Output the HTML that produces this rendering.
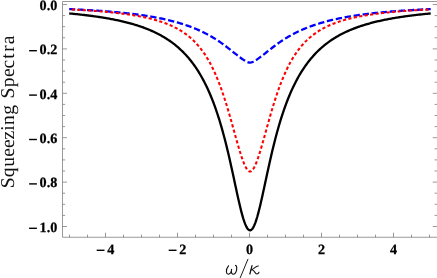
<!DOCTYPE html>
<html><head><meta charset="utf-8"><title>Squeezing Spectra</title>
<style>
html,body{margin:0;padding:0;background:#fff;}
body{width:437px;height:278px;position:relative;overflow:hidden;font-family:"Liberation Serif",serif;text-rendering:geometricPrecision;}
svg{position:absolute;left:0;top:0;}
</style></head><body>
<svg width="437" height="278" viewBox="0 0 437 278" style="will-change:transform">
<rect width="437" height="278" fill="#fff"/>
<g fill="none" stroke="#777" stroke-width="0.75">
<path d="M62.5 1.5 V237.25 H437.5 M62.5 1.5 H437.5"/>
<path d="M69.50 237.25 V234.60 M87.50 237.25 V234.60 M105.50 237.25 V232.75 M123.50 237.25 V234.60 M141.50 237.25 V234.60 M159.50 237.25 V234.60 M177.50 237.25 V232.75 M195.50 237.25 V234.60 M213.50 237.25 V234.60 M231.50 237.25 V234.60 M249.50 237.25 V232.75 M267.50 237.25 V234.60 M285.50 237.25 V234.60 M303.50 237.25 V234.60 M321.50 237.25 V232.75 M339.50 237.25 V234.60 M357.50 237.25 V234.60 M375.50 237.25 V234.60 M393.50 237.25 V232.75 M411.50 237.25 V234.60 M429.50 237.25 V234.60 M62.5 4.50 h4.5 M437.2 4.50 h-4.5 M62.5 15.60 h2.65 M437.2 15.60 h-2.65 M62.5 26.70 h2.65 M437.2 26.70 h-2.65 M62.5 37.80 h2.65 M437.2 37.80 h-2.65 M62.5 48.90 h4.5 M437.2 48.90 h-4.5 M62.5 60.00 h2.65 M437.2 60.00 h-2.65 M62.5 71.10 h2.65 M437.2 71.10 h-2.65 M62.5 82.20 h2.65 M437.2 82.20 h-2.65 M62.5 93.30 h4.5 M437.2 93.30 h-4.5 M62.5 104.40 h2.65 M437.2 104.40 h-2.65 M62.5 115.50 h2.65 M437.2 115.50 h-2.65 M62.5 126.60 h2.65 M437.2 126.60 h-2.65 M62.5 137.70 h4.5 M437.2 137.70 h-4.5 M62.5 148.80 h2.65 M437.2 148.80 h-2.65 M62.5 159.90 h2.65 M437.2 159.90 h-2.65 M62.5 171.00 h2.65 M437.2 171.00 h-2.65 M62.5 182.10 h4.5 M437.2 182.10 h-4.5 M62.5 193.20 h2.65 M437.2 193.20 h-2.65 M62.5 204.30 h2.65 M437.2 204.30 h-2.65 M62.5 215.40 h2.65 M437.2 215.40 h-2.65 M62.5 226.50 h4.5 M437.2 226.50 h-4.5"/>
</g>
<g fill="none" stroke-width="2.3" stroke-linejoin="round" transform="scale(1.0 1)">
<path stroke="#000" d="M69.20 13.44 L70.20 13.53 L71.20 13.63 L72.20 13.72 L73.20 13.82 L74.20 13.92 L75.20 14.02 L76.20 14.12 L77.20 14.23 L78.20 14.33 L79.20 14.44 L80.20 14.55 L81.20 14.66 L82.20 14.77 L83.20 14.89 L84.20 15.00 L85.20 15.12 L86.20 15.24 L87.20 15.36 L88.20 15.49 L89.20 15.61 L90.20 15.74 L91.20 15.87 L92.20 16.01 L93.20 16.14 L94.20 16.28 L95.20 16.42 L96.20 16.56 L97.20 16.71 L98.20 16.85 L99.20 17.00 L100.20 17.15 L101.20 17.31 L102.20 17.47 L103.20 17.63 L104.20 17.79 L105.20 17.96 L106.20 18.13 L107.20 18.30 L108.20 18.48 L109.20 18.66 L110.20 18.84 L111.20 19.03 L112.20 19.22 L113.20 19.41 L114.20 19.61 L115.20 19.81 L116.20 20.01 L117.20 20.22 L118.20 20.44 L119.20 20.65 L120.20 20.87 L121.20 21.10 L122.20 21.33 L123.20 21.57 L124.20 21.80 L125.20 22.05 L126.20 22.30 L127.20 22.55 L128.20 22.81 L129.20 23.08 L130.20 23.35 L131.20 23.63 L132.20 23.91 L133.20 24.20 L134.20 24.49 L135.20 24.79 L136.20 25.10 L137.20 25.42 L138.20 25.74 L139.20 26.07 L140.20 26.40 L141.20 26.74 L142.20 27.10 L143.20 27.45 L144.20 27.82 L145.20 28.20 L146.20 28.58 L147.20 28.97 L148.20 29.38 L149.20 29.79 L150.20 30.21 L151.20 30.64 L152.20 31.08 L153.20 31.53 L154.20 32.00 L155.20 32.47 L156.20 32.96 L157.20 33.46 L158.20 33.97 L159.20 34.49 L160.20 35.03 L161.20 35.58 L162.20 36.14 L163.20 36.72 L164.20 37.31 L165.20 37.92 L166.20 38.54 L167.20 39.18 L168.20 39.84 L169.20 40.52 L170.20 41.21 L171.20 41.92 L172.20 42.65 L173.20 43.40 L174.20 44.18 L175.20 44.97 L176.20 45.78 L177.20 46.62 L178.20 47.48 L179.20 48.37 L180.20 49.28 L181.20 50.22 L182.20 51.18 L183.20 52.17 L184.20 53.19 L185.20 54.25 L186.20 55.33 L187.20 56.44 L188.20 57.59 L189.20 58.78 L190.20 60.00 L191.20 61.25 L192.20 62.55 L193.20 63.88 L194.20 65.26 L195.20 66.68 L196.20 68.15 L197.20 69.66 L198.20 71.23 L199.20 72.84 L200.20 74.50 L201.20 76.22 L202.20 78.00 L203.20 79.84 L204.20 81.73 L205.20 83.70 L206.20 85.72 L207.20 87.82 L208.20 89.99 L209.20 92.23 L210.20 94.56 L211.20 96.96 L212.20 99.44 L213.20 102.02 L214.20 104.68 L215.20 107.44 L216.20 110.29 L217.20 113.25 L218.20 116.31 L219.20 119.47 L220.20 122.75 L221.20 126.13 L222.20 129.63 L223.20 133.25 L224.20 136.98 L225.20 140.82 L226.20 144.79 L227.20 148.87 L228.20 153.05 L229.20 157.34 L230.20 161.73 L231.20 166.21 L232.20 170.75 L233.20 175.36 L234.20 180.00 L235.20 184.66 L236.20 189.31 L237.20 193.91 L238.20 198.43 L239.20 202.83 L240.20 207.07 L241.20 211.10 L242.20 214.87 L243.20 218.34 L244.20 221.44 L245.20 224.15 L246.20 226.40 L247.20 228.18 L248.20 229.43 L249.20 230.15 L250.20 230.32 L251.20 229.93 L252.20 228.99 L253.20 227.53 L254.20 225.56 L255.20 223.12 L256.20 220.25 L257.20 216.99 L258.20 213.40 L259.20 209.52 L260.20 205.40 L261.20 201.09 L262.20 196.63 L263.20 192.08 L264.20 187.45 L265.20 182.80 L266.20 178.14 L267.20 173.51 L268.20 168.93 L269.20 164.41 L270.20 159.97 L271.20 155.62 L272.20 151.36 L273.20 147.22 L274.20 143.19 L275.20 139.27 L276.20 135.47 L277.20 131.79 L278.20 128.22 L279.20 124.76 L280.20 121.42 L281.20 118.19 L282.20 115.07 L283.20 112.05 L284.20 109.14 L285.20 106.32 L286.20 103.61 L287.20 100.98 L288.20 98.44 L289.20 95.99 L290.20 93.62 L291.20 91.33 L292.20 89.11 L293.20 86.97 L294.20 84.90 L295.20 82.90 L296.20 80.97 L297.20 79.09 L298.20 77.28 L299.20 75.53 L300.20 73.83 L301.20 72.19 L302.20 70.59 L303.20 69.05 L304.20 67.56 L305.20 66.11 L306.20 64.71 L307.20 63.34 L308.20 62.02 L309.20 60.74 L310.20 59.50 L311.20 58.30 L312.20 57.13 L313.20 55.99 L314.20 54.89 L315.20 53.82 L316.20 52.78 L317.20 51.77 L318.20 50.79 L319.20 49.84 L320.20 48.91 L321.20 48.01 L322.20 47.13 L323.20 46.28 L324.20 45.45 L325.20 44.65 L326.20 43.86 L327.20 43.10 L328.20 42.36 L329.20 41.63 L330.20 40.93 L331.20 40.24 L332.20 39.58 L333.20 38.93 L334.20 38.29 L335.20 37.67 L336.20 37.07 L337.20 36.48 L338.20 35.91 L339.20 35.35 L340.20 34.81 L341.20 34.28 L342.20 33.76 L343.20 33.26 L344.20 32.76 L345.20 32.28 L346.20 31.81 L347.20 31.35 L348.20 30.90 L349.20 30.47 L350.20 30.04 L351.20 29.62 L352.20 29.21 L353.20 28.82 L354.20 28.43 L355.20 28.05 L356.20 27.67 L357.20 27.31 L358.20 26.95 L359.20 26.61 L360.20 26.27 L361.20 25.93 L362.20 25.61 L363.20 25.29 L364.20 24.98 L365.20 24.67 L366.20 24.37 L367.20 24.08 L368.20 23.80 L369.20 23.52 L370.20 23.24 L371.20 22.97 L372.20 22.71 L373.20 22.45 L374.20 22.20 L375.20 21.95 L376.20 21.71 L377.20 21.47 L378.20 21.24 L379.20 21.01 L380.20 20.78 L381.20 20.57 L382.20 20.35 L383.20 20.14 L384.20 19.93 L385.20 19.73 L386.20 19.53 L387.20 19.33 L388.20 19.14 L389.20 18.95 L390.20 18.77 L391.20 18.59 L392.20 18.41 L393.20 18.23 L394.20 18.06 L395.20 17.89 L396.20 17.73 L397.20 17.56 L398.20 17.40 L399.20 17.25 L400.20 17.09 L401.20 16.94 L402.20 16.79 L403.20 16.65 L404.20 16.50 L405.20 16.36 L406.20 16.22 L407.20 16.09 L408.20 15.95 L409.20 15.82 L410.20 15.69 L411.20 15.56 L412.20 15.44 L413.20 15.31 L414.20 15.19 L415.20 15.07 L416.20 14.96 L417.20 14.84 L418.20 14.73 L419.20 14.62 L420.20 14.50 L421.20 14.40 L422.20 14.29 L423.20 14.19 L424.20 14.08 L425.20 13.98 L426.20 13.88 L427.20 13.78 L428.20 13.68 L429.20 13.59 L430.20 13.49 L430.70 13.45"/>
<path stroke="#0000ff" stroke-dasharray="6.35 2.73" stroke-dashoffset="0.27" d="M69.20 9.11 L70.20 9.15 L71.20 9.20 L72.20 9.25 L73.20 9.29 L74.20 9.34 L75.20 9.39 L76.20 9.44 L77.20 9.49 L78.20 9.54 L79.20 9.59 L80.20 9.64 L81.20 9.69 L82.20 9.75 L83.20 9.80 L84.20 9.86 L85.20 9.91 L86.20 9.97 L87.20 10.03 L88.20 10.09 L89.20 10.15 L90.20 10.21 L91.20 10.27 L92.20 10.33 L93.20 10.39 L94.20 10.46 L95.20 10.52 L96.20 10.59 L97.20 10.66 L98.20 10.72 L99.20 10.79 L100.20 10.86 L101.20 10.94 L102.20 11.01 L103.20 11.08 L104.20 11.16 L105.20 11.23 L106.20 11.31 L107.20 11.39 L108.20 11.47 L109.20 11.55 L110.20 11.63 L111.20 11.72 L112.20 11.80 L113.20 11.89 L114.20 11.98 L115.20 12.07 L116.20 12.16 L117.20 12.25 L118.20 12.35 L119.20 12.44 L120.20 12.54 L121.20 12.64 L122.20 12.74 L123.20 12.85 L124.20 12.95 L125.20 13.06 L126.20 13.16 L127.20 13.27 L128.20 13.39 L129.20 13.50 L130.20 13.62 L131.20 13.73 L132.20 13.86 L133.20 13.98 L134.20 14.10 L135.20 14.23 L136.20 14.36 L137.20 14.49 L138.20 14.62 L139.20 14.76 L140.20 14.90 L141.20 15.04 L142.20 15.18 L143.20 15.33 L144.20 15.48 L145.20 15.63 L146.20 15.79 L147.20 15.95 L148.20 16.11 L149.20 16.27 L150.20 16.44 L151.20 16.61 L152.20 16.78 L153.20 16.96 L154.20 17.14 L155.20 17.32 L156.20 17.51 L157.20 17.70 L158.20 17.89 L159.20 18.09 L160.20 18.29 L161.20 18.50 L162.20 18.71 L163.20 18.92 L164.20 19.14 L165.20 19.37 L166.20 19.59 L167.20 19.82 L168.20 20.06 L169.20 20.30 L170.20 20.55 L171.20 20.80 L172.20 21.05 L173.20 21.31 L174.20 21.58 L175.20 21.85 L176.20 22.13 L177.20 22.41 L178.20 22.70 L179.20 22.99 L180.20 23.29 L181.20 23.60 L182.20 23.91 L183.20 24.23 L184.20 24.56 L185.20 24.89 L186.20 25.23 L187.20 25.58 L188.20 25.93 L189.20 26.29 L190.20 26.66 L191.20 27.03 L192.20 27.42 L193.20 27.81 L194.20 28.21 L195.20 28.62 L196.20 29.03 L197.20 29.46 L198.20 29.89 L199.20 30.34 L200.20 30.79 L201.20 31.25 L202.20 31.73 L203.20 32.21 L204.20 32.70 L205.20 33.21 L206.20 33.72 L207.20 34.25 L208.20 34.78 L209.20 35.33 L210.20 35.89 L211.20 36.46 L212.20 37.05 L213.20 37.64 L214.20 38.25 L215.20 38.87 L216.20 39.51 L217.20 40.15 L218.20 40.81 L219.20 41.49 L220.20 42.17 L221.20 42.87 L222.20 43.58 L223.20 44.30 L224.20 45.04 L225.20 45.78 L226.20 46.54 L227.20 47.31 L228.20 48.08 L229.20 48.86 L230.20 49.65 L231.20 50.44 L232.20 51.24 L233.20 52.04 L234.20 52.84 L235.20 53.63 L236.20 54.42 L237.20 55.21 L238.20 55.98 L239.20 56.75 L240.20 57.50 L241.20 58.24 L242.20 58.95 L243.20 59.64 L244.20 60.30 L245.20 60.92 L246.20 61.47 L247.20 61.94 L248.20 62.29 L249.20 62.50 L250.20 62.55 L251.20 62.43 L252.20 62.16 L253.20 61.76 L254.20 61.26 L255.20 60.68 L256.20 60.04 L257.20 59.37 L258.20 58.67 L259.20 57.94 L260.20 57.20 L261.20 56.44 L262.20 55.67 L263.20 54.89 L264.20 54.11 L265.20 53.31 L266.20 52.52 L267.20 51.72 L268.20 50.92 L269.20 50.13 L270.20 49.33 L271.20 48.55 L272.20 47.77 L273.20 47.00 L274.20 46.24 L275.20 45.48 L276.20 44.74 L277.20 44.01 L278.20 43.30 L279.20 42.59 L280.20 41.90 L281.20 41.22 L282.20 40.55 L283.20 39.89 L284.20 39.25 L285.20 38.62 L286.20 38.01 L287.20 37.40 L288.20 36.81 L289.20 36.23 L290.20 35.67 L291.20 35.11 L292.20 34.57 L293.20 34.04 L294.20 33.51 L295.20 33.00 L296.20 32.50 L297.20 32.02 L298.20 31.54 L299.20 31.07 L300.20 30.61 L301.20 30.16 L302.20 29.72 L303.20 29.29 L304.20 28.87 L305.20 28.45 L306.20 28.05 L307.20 27.65 L308.20 27.26 L309.20 26.88 L310.20 26.51 L311.20 26.14 L312.20 25.79 L313.20 25.44 L314.20 25.09 L315.20 24.76 L316.20 24.43 L317.20 24.10 L318.20 23.79 L319.20 23.48 L320.20 23.17 L321.20 22.88 L322.20 22.58 L323.20 22.30 L324.20 22.02 L325.20 21.74 L326.20 21.47 L327.20 21.21 L328.20 20.95 L329.20 20.70 L330.20 20.45 L331.20 20.20 L332.20 19.97 L333.20 19.73 L334.20 19.50 L335.20 19.28 L336.20 19.06 L337.20 18.84 L338.20 18.63 L339.20 18.42 L340.20 18.21 L341.20 18.01 L342.20 17.82 L343.20 17.62 L344.20 17.43 L345.20 17.25 L346.20 17.07 L347.20 16.89 L348.20 16.71 L349.20 16.54 L350.20 16.37 L351.20 16.20 L352.20 16.04 L353.20 15.88 L354.20 15.73 L355.20 15.57 L356.20 15.42 L357.20 15.27 L358.20 15.13 L359.20 14.98 L360.20 14.84 L361.20 14.71 L362.20 14.57 L363.20 14.44 L364.20 14.31 L365.20 14.18 L366.20 14.05 L367.20 13.93 L368.20 13.81 L369.20 13.69 L370.20 13.57 L371.20 13.45 L372.20 13.34 L373.20 13.23 L374.20 13.12 L375.20 13.01 L376.20 12.91 L377.20 12.80 L378.20 12.70 L379.20 12.60 L380.20 12.50 L381.20 12.41 L382.20 12.31 L383.20 12.22 L384.20 12.12 L385.20 12.03 L386.20 11.94 L387.20 11.86 L388.20 11.77 L389.20 11.69 L390.20 11.60 L391.20 11.52 L392.20 11.44 L393.20 11.36 L394.20 11.28 L395.20 11.20 L396.20 11.13 L397.20 11.05 L398.20 10.98 L399.20 10.91 L400.20 10.84 L401.20 10.77 L402.20 10.70 L403.20 10.63 L404.20 10.56 L405.20 10.50 L406.20 10.43 L407.20 10.37 L408.20 10.31 L409.20 10.24 L410.20 10.18 L411.20 10.12 L412.20 10.06 L413.20 10.01 L414.20 9.95 L415.20 9.89 L416.20 9.84 L417.20 9.78 L418.20 9.73 L419.20 9.67 L420.20 9.62 L421.20 9.57 L422.20 9.52 L423.20 9.47 L424.20 9.42 L425.20 9.37 L426.20 9.32 L427.20 9.27 L428.20 9.23 L429.20 9.18 L430.20 9.13 L430.70 9.11"/>
<path stroke="#ff0000" stroke-width="2.05" stroke-dasharray="3.2 2.34" stroke-dashoffset="3.1" d="M69.20 9.37 L70.20 9.42 L71.20 9.47 L72.20 9.52 L73.20 9.57 L74.20 9.63 L75.20 9.68 L76.20 9.74 L77.20 9.79 L78.20 9.85 L79.20 9.90 L80.20 9.96 L81.20 10.02 L82.20 10.08 L83.20 10.14 L84.20 10.20 L85.20 10.27 L86.20 10.33 L87.20 10.40 L88.20 10.46 L89.20 10.53 L90.20 10.60 L91.20 10.67 L92.20 10.74 L93.20 10.81 L94.20 10.89 L95.20 10.96 L96.20 11.04 L97.20 11.11 L98.20 11.19 L99.20 11.27 L100.20 11.35 L101.20 11.44 L102.20 11.52 L103.20 11.61 L104.20 11.70 L105.20 11.79 L106.20 11.88 L107.20 11.97 L108.20 12.07 L109.20 12.16 L110.20 12.26 L111.20 12.36 L112.20 12.47 L113.20 12.57 L114.20 12.68 L115.20 12.79 L116.20 12.90 L117.20 13.01 L118.20 13.13 L119.20 13.25 L120.20 13.37 L121.20 13.49 L122.20 13.62 L123.20 13.75 L124.20 13.88 L125.20 14.01 L126.20 14.15 L127.20 14.29 L128.20 14.43 L129.20 14.58 L130.20 14.73 L131.20 14.88 L132.20 15.04 L133.20 15.20 L134.20 15.37 L135.20 15.53 L136.20 15.71 L137.20 15.88 L138.20 16.06 L139.20 16.25 L140.20 16.44 L141.20 16.63 L142.20 16.83 L143.20 17.03 L144.20 17.24 L145.20 17.46 L146.20 17.68 L147.20 17.90 L148.20 18.13 L149.20 18.37 L150.20 18.61 L151.20 18.86 L152.20 19.12 L153.20 19.38 L154.20 19.65 L155.20 19.93 L156.20 20.22 L157.20 20.51 L158.20 20.81 L159.20 21.13 L160.20 21.44 L161.20 21.77 L162.20 22.11 L163.20 22.46 L164.20 22.82 L165.20 23.19 L166.20 23.57 L167.20 23.96 L168.20 24.37 L169.20 24.78 L170.20 25.21 L171.20 25.66 L172.20 26.12 L173.20 26.59 L174.20 27.08 L175.20 27.58 L176.20 28.10 L177.20 28.64 L178.20 29.19 L179.20 29.77 L180.20 30.36 L181.20 30.98 L182.20 31.61 L183.20 32.27 L184.20 32.95 L185.20 33.66 L186.20 34.39 L187.20 35.15 L188.20 35.93 L189.20 36.74 L190.20 37.59 L191.20 38.46 L192.20 39.37 L193.20 40.31 L194.20 41.29 L195.20 42.31 L196.20 43.36 L197.20 44.46 L198.20 45.60 L199.20 46.78 L200.20 48.01 L201.20 49.29 L202.20 50.62 L203.20 52.00 L204.20 53.44 L205.20 54.93 L206.20 56.49 L207.20 58.11 L208.20 59.79 L209.20 61.54 L210.20 63.36 L211.20 65.26 L212.20 67.22 L213.20 69.27 L214.20 71.40 L215.20 73.61 L216.20 75.91 L217.20 78.29 L218.20 80.76 L219.20 83.32 L220.20 85.97 L221.20 88.71 L222.20 91.55 L223.20 94.48 L224.20 97.49 L225.20 100.60 L226.20 103.79 L227.20 107.06 L228.20 110.41 L229.20 113.82 L230.20 117.30 L231.20 120.83 L232.20 124.40 L233.20 128.00 L234.20 131.61 L235.20 135.21 L236.20 138.80 L237.20 142.35 L238.20 145.83 L239.20 149.24 L240.20 152.53 L241.20 155.68 L242.20 158.66 L243.20 161.44 L244.20 163.97 L245.20 166.22 L246.20 168.13 L247.20 169.66 L248.20 170.77 L249.20 171.41 L250.20 171.56 L251.20 171.21 L252.20 170.38 L253.20 169.10 L254.20 167.41 L255.20 165.36 L256.20 162.99 L257.20 160.35 L258.20 157.49 L259.20 154.43 L260.20 151.22 L261.20 147.89 L262.20 144.45 L263.20 140.94 L264.20 137.37 L265.20 133.77 L266.20 130.16 L267.20 126.55 L268.20 122.97 L269.20 119.41 L270.20 115.90 L271.20 112.45 L272.20 109.06 L273.20 105.74 L274.20 102.50 L275.20 99.35 L276.20 96.28 L277.20 93.29 L278.20 90.40 L279.20 87.61 L280.20 84.90 L281.20 82.28 L282.20 79.76 L283.20 77.32 L284.20 74.98 L285.20 72.72 L286.20 70.54 L287.20 68.44 L288.20 66.43 L289.20 64.49 L290.20 62.62 L291.20 60.83 L292.20 59.11 L293.20 57.45 L294.20 55.86 L295.20 54.33 L296.20 52.85 L297.20 51.44 L298.20 50.08 L299.20 48.77 L300.20 47.51 L301.20 46.30 L302.20 45.14 L303.20 44.01 L304.20 42.94 L305.20 41.90 L306.20 40.90 L307.20 39.93 L308.20 39.00 L309.20 38.11 L310.20 37.25 L311.20 36.42 L312.20 35.61 L313.20 34.84 L314.20 34.09 L315.20 33.37 L316.20 32.68 L317.20 32.01 L318.20 31.36 L319.20 30.73 L320.20 30.12 L321.20 29.54 L322.20 28.97 L323.20 28.42 L324.20 27.89 L325.20 27.38 L326.20 26.88 L327.20 26.40 L328.20 25.93 L329.20 25.48 L330.20 25.04 L331.20 24.62 L332.20 24.20 L333.20 23.80 L334.20 23.42 L335.20 23.04 L336.20 22.68 L337.20 22.32 L338.20 21.98 L339.20 21.64 L340.20 21.32 L341.20 21.00 L342.20 20.69 L343.20 20.39 L344.20 20.10 L345.20 19.82 L346.20 19.54 L347.20 19.28 L348.20 19.02 L349.20 18.76 L350.20 18.52 L351.20 18.27 L352.20 18.04 L353.20 17.81 L354.20 17.59 L355.20 17.37 L356.20 17.16 L357.20 16.95 L358.20 16.75 L359.20 16.55 L360.20 16.36 L361.20 16.17 L362.20 15.99 L363.20 15.81 L364.20 15.64 L365.20 15.47 L366.20 15.30 L367.20 15.14 L368.20 14.98 L369.20 14.82 L370.20 14.67 L371.20 14.52 L372.20 14.38 L373.20 14.23 L374.20 14.09 L375.20 13.96 L376.20 13.83 L377.20 13.69 L378.20 13.57 L379.20 13.44 L380.20 13.32 L381.20 13.20 L382.20 13.08 L383.20 12.97 L384.20 12.85 L385.20 12.74 L386.20 12.64 L387.20 12.53 L388.20 12.43 L389.20 12.32 L390.20 12.22 L391.20 12.13 L392.20 12.03 L393.20 11.94 L394.20 11.84 L395.20 11.75 L396.20 11.66 L397.20 11.57 L398.20 11.49 L399.20 11.40 L400.20 11.32 L401.20 11.24 L402.20 11.16 L403.20 11.08 L404.20 11.01 L405.20 10.93 L406.20 10.86 L407.20 10.78 L408.20 10.71 L409.20 10.64 L410.20 10.57 L411.20 10.50 L412.20 10.44 L413.20 10.37 L414.20 10.31 L415.20 10.24 L416.20 10.18 L417.20 10.12 L418.20 10.06 L419.20 10.00 L420.20 9.94 L421.20 9.88 L422.20 9.82 L423.20 9.77 L424.20 9.71 L425.20 9.66 L426.20 9.61 L427.20 9.55 L428.20 9.50 L429.20 9.45 L430.20 9.40 L430.70 9.38"/>
</g>
<g fill="#000"><rect x="29.1" y="50.00" width="7.8" height="1.4"/><rect x="29.1" y="94.40" width="7.8" height="1.4"/><rect x="29.1" y="138.80" width="7.8" height="1.4"/><rect x="29.1" y="183.20" width="7.8" height="1.4"/><rect x="29.1" y="227.60" width="7.8" height="1.4"/><rect x="96.70" y="249.60" width="7.8" height="1.4"/><rect x="168.70" y="249.60" width="7.8" height="1.4"/></g>
<g font-family="Liberation Serif, serif" font-weight="bold" font-size="14.2" fill="#000" stroke="#000" stroke-width="0.25"><text x="57.3" y="9.70" text-anchor="end">0.0</text><text x="57.3" y="54.10" text-anchor="end">0.2</text><text x="57.3" y="98.50" text-anchor="end">0.4</text><text x="57.3" y="142.90" text-anchor="end">0.6</text><text x="57.3" y="187.30" text-anchor="end">0.8</text><text x="57.3" y="231.70" text-anchor="end">1.0</text><text x="110.75" y="254.0" text-anchor="middle">4</text><text x="182.75" y="254.0" text-anchor="middle">2</text><text x="249.50" y="254.0" text-anchor="middle">0</text><text x="321.50" y="254.0" text-anchor="middle">2</text><text x="393.50" y="254.0" text-anchor="middle">4</text></g>
<text transform="translate(14.0 188.3) rotate(-90)" x="-0.07 10.97 21.45 31.68 40.27 48.86 57.47 63.37 73.58 84.09 89.70 101.00 111.23 119.82 129.50 136.52 144.06" y="0" font-family="Liberation Serif, serif" font-size="19.6" fill="#111">Squeezing Spectra</text>
<g fill="none" stroke="#111" stroke-linecap="round" stroke-linejoin="round">
<path stroke-width="1.15" d="M228.5 265.8 C226.9 267.7 226.2 270.3 226.4 272 C226.6 273.6 227.3 274.2 228.4 274.2 C230.2 274.2 231.3 272.3 231.6 269.3 M231.4 270.6 C231.2 272.8 231.9 274.2 233.3 274.2 C235.6 274.2 237 270.4 236.7 267.4 C236.6 266.3 236.2 265.5 235.5 265.4"/>
<path stroke-width="0.95" d="M247.9 259.3 L240 278.3"/>
<path stroke-width="1.25" d="M252 265.7 L249.9 274"/>
<path stroke-width="1.05" d="M250.9 270 C253.5 269.6 256 265.6 258.4 266 M251.6 269.8 C254.8 269.6 254.6 274 256.9 274 C257.9 274 258.6 273.3 259 272.3"/>
</g>
</svg>
</body></html>
